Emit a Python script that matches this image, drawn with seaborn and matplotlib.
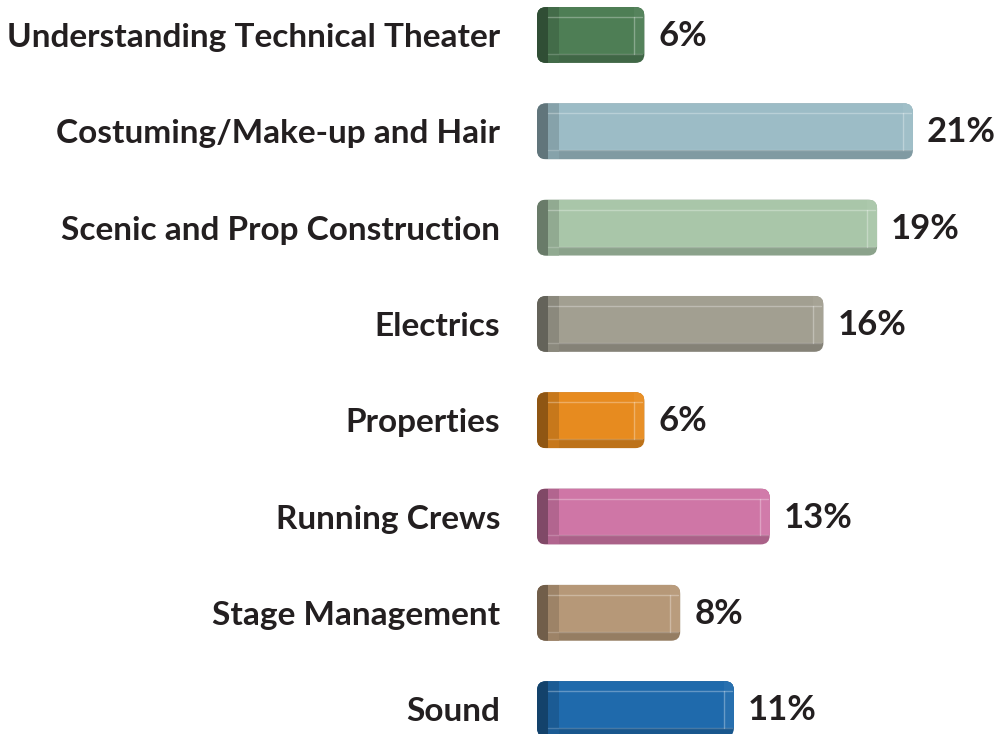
import matplotlib
matplotlib.use("Agg")
import numpy as np
import pandas as pd
import matplotlib.pyplot as plt
import seaborn as sns
from matplotlib.patches import FancyBboxPatch, Rectangle

categories = ['Understanding Technical Theater', 'Costuming/Make-up and Hair',
              'Scenic and Prop Construction', 'Electrics', 'Properties',
              'Running Crews', 'Stage Management', 'Sound']
shares = [6, 21, 19, 16, 6, 13, 8, 11]
bar_colors = ['#4e7e55', '#9cbcc6', '#a9c6a9', '#a29f91',
              '#e78b1f', '#cf76a6', '#b69878', '#1f6aac']

sns.set_theme(style='white')
plt.rcParams['font.family'] = ['Lato', 'DejaVu Sans']

# pixel scale of the layout
PX_PER_X = 17.9
PX_PER_Y = 96.3

def px_x(p):
    return p / PX_PER_X

def px_y(p):
    return p / PX_PER_Y

def shade(c, f):
    c = np.array(c[:3])
    if f < 1:
        return tuple(c * f)
    return tuple(c + (1 - c) * (f - 1))

fig = plt.figure(figsize=(9.97, 7.34), dpi=100)
ax = fig.add_axes([537 / 997, 0, 460 / 997, 1])

df = pd.DataFrame({'skill': categories, 'share': shares})
sns.barplot(data=df, x='share', y='skill', hue='skill', palette=bar_colors,
            width=0.58, saturation=1, legend=False, ax=ax)

ax.set_xlim(0, 460 / PX_PER_X)
ax.set_ylim(734 / PX_PER_Y - 35 / PX_PER_Y, -35 / PX_PER_Y)

# bevelled look for each bar
bars = list(ax.patches)
for bar, v in zip(bars, shares):
    x0, y0 = bar.get_x(), bar.get_y()
    w, h = bar.get_width(), bar.get_height()
    fc = bar.get_facecolor()
    bar.set_visible(False)

    body = FancyBboxPatch((x0, y0), w, h,
                          boxstyle='round,pad=0,rounding_size=%f' % px_x(9),
                          mutation_aspect=PX_PER_X / PX_PER_Y,
                          facecolor=shade(fc, 0.82), edgecolor='none', zorder=2)
    ax.add_patch(body)
    bottom = y0 + h - px_y(9)
    layers = [
        (x0, y0, px_x(11), h, shade(fc, 0.62)),
        (x0 + px_x(11), y0, px_x(11), h, shade(fc, 0.86)),
        (x0 + px_x(22), y0, w - px_x(22), bottom - y0, fc),
        (x0 + w - px_x(10), y0, px_x(10), bottom - y0, shade(fc, 1.04)),
    ]
    for lx, ly, lw, lh, col in layers:
        r = Rectangle((lx, ly), lw, lh, facecolor=col, edgecolor='none', zorder=3)
        ax.add_patch(r)
        r.set_clip_path(body)
    # light bevel lines
    ln1, = ax.plot([x0 + px_x(11), x0 + w - px_x(2)], [y0 + px_y(10)] * 2,
                   color='white', alpha=0.3, lw=1, zorder=4)
    ln2, = ax.plot([x0 + px_x(11), x0 + w - px_x(2)], [bottom] * 2,
                   color='white', alpha=0.2, lw=1, zorder=4)
    ln3, = ax.plot([x0 + w - px_x(10)] * 2, [y0 + px_y(10), bottom],
                   color='white', alpha=0.3, lw=1, zorder=4)
    for ln in (ln1, ln2, ln3):
        ln.set_clip_path(body)

    ax.text(x0 + w + px_x(14), y0 + h / 2 + px_y(1), f'{v}%', ha='left', va='center',
            fontsize=25, fontweight='bold', color='#231f20')

ax.set_xlabel('')
ax.set_ylabel('')
ax.set_xticks([])
ax.tick_params(axis='y', length=0, pad=26.5, labelsize=24, labelcolor='#231f20')
for lab in ax.get_yticklabels():
    lab.set_fontweight('bold')
sns.despine(ax=ax, left=True, bottom=True)

fig.savefig('out.png', dpi=100)
